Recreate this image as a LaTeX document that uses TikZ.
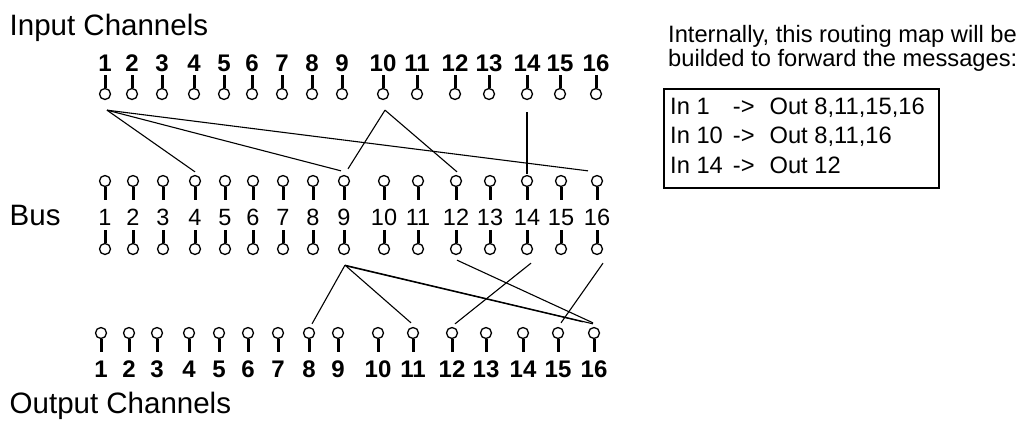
\documentclass[tikz,border=0pt]{standalone}
\usepackage{fontspec}
\setmainfont{Liberation Sans}
\usepackage{tikz}

\begin{document}
\begin{tikzpicture}[x=1pt, y=-1pt,
	plug/.style={circle, draw, line width=1.3pt, minimum size=11pt, inner sep=0pt},
	stem/.style={line width=3pt},
	wire/.style={line width=1.1pt},
	innum/.style={anchor=base, inner sep=0pt, font=\fontsize{24}{28}\selectfont\bfseries},
	busnum/.style={anchor=base, inner sep=0pt, font=\fontsize{23.5}{28}\selectfont},
	chlabel/.style={anchor=base west, inner sep=0pt, font=\fontsize{29.5}{35}\selectfont},
	note/.style={anchor=base west, inner sep=0pt, font=\fontsize{23.7}{29.5}\selectfont}]
\useasboundingbox (0,0) rectangle (1032,421);
\node[chlabel] (intitle) at (9.5,35) {Input Channels};
\node[chlabel] (bustitle) at (9.5,225) {Bus};
\node[chlabel] (outtitle) at (9.5,413) {Output Channels};
\node[plug] (in1) at (105,94) {}; \node[innum] (ni1) at (105,71) {1}; \draw[stem] (in1.north) -- ++(0,-13);
\node[plug] (in2) at (132,94) {}; \node[innum] (ni2) at (132,71) {2}; \draw[stem] (in2.north) -- ++(0,-13);
\node[plug] (in3) at (162,94) {}; \node[innum] (ni3) at (162,71) {3}; \draw[stem] (in3.north) -- ++(0,-13);
\node[plug] (in4) at (194,94) {}; \node[innum] (ni4) at (194,71) {4}; \draw[stem] (in4.north) -- ++(0,-13);
\node[plug] (in5) at (224,94) {}; \node[innum] (ni5) at (224,71) {5}; \draw[stem] (in5.north) -- ++(0,-13);
\node[plug] (in6) at (252,94) {}; \node[innum] (ni6) at (252,71) {6}; \draw[stem] (in6.north) -- ++(0,-13);
\node[plug] (in7) at (282,94) {}; \node[innum] (ni7) at (282,71) {7}; \draw[stem] (in7.north) -- ++(0,-13);
\node[plug] (in8) at (312,94) {}; \node[innum] (ni8) at (312,71) {8}; \draw[stem] (in8.north) -- ++(0,-13);
\node[plug] (in9) at (342,94) {}; \node[innum] (ni9) at (342,71) {9}; \draw[stem] (in9.north) -- ++(0,-13);
\node[plug] (in10) at (383,94) {}; \node[innum] (ni10) at (383,71) {10}; \draw[stem] (in10.north) -- ++(0,-13);
\node[plug] (in11) at (417,94) {}; \node[innum] (ni11) at (417,71) {11}; \draw[stem] (in11.north) -- ++(0,-13);
\node[plug] (in12) at (455,94) {}; \node[innum] (ni12) at (455,71) {12}; \draw[stem] (in12.north) -- ++(0,-13);
\node[plug] (in13) at (489,94) {}; \node[innum] (ni13) at (489,71) {13}; \draw[stem] (in13.north) -- ++(0,-13);
\node[plug] (in14) at (527,94) {}; \node[innum] (ni14) at (527,71) {14}; \draw[stem] (in14.north) -- ++(0,-13);
\node[plug] (in15) at (560,94) {}; \node[innum] (ni15) at (560,71) {15}; \draw[stem] (in15.north) -- ++(0,-13);
\node[plug] (in16) at (596,94) {}; \node[innum] (ni16) at (596,71) {16}; \draw[stem] (in16.north) -- ++(0,-13);
\node[plug] (bt1) at (105,181) {}; \node[busnum] (nb1) at (105,225) {1}; \node[plug] (bb1) at (105,249) {}; \draw[stem] (bt1.south) -- ++(0,13) (bb1.north) -- ++(0,-13);
\node[plug] (bt2) at (133,181) {}; \node[busnum] (nb2) at (133,225) {2}; \node[plug] (bb2) at (133,249) {}; \draw[stem] (bt2.south) -- ++(0,13) (bb2.north) -- ++(0,-13);
\node[plug] (bt3) at (163,181) {}; \node[busnum] (nb3) at (163,225) {3}; \node[plug] (bb3) at (163,249) {}; \draw[stem] (bt3.south) -- ++(0,13) (bb3.north) -- ++(0,-13);
\node[plug] (bt4) at (195,181) {}; \node[busnum] (nb4) at (195,225) {4}; \node[plug] (bb4) at (195,249) {}; \draw[stem] (bt4.south) -- ++(0,13) (bb4.north) -- ++(0,-13);
\node[plug] (bt5) at (225,181) {}; \node[busnum] (nb5) at (225,225) {5}; \node[plug] (bb5) at (225,249) {}; \draw[stem] (bt5.south) -- ++(0,13) (bb5.north) -- ++(0,-13);
\node[plug] (bt6) at (253,181) {}; \node[busnum] (nb6) at (253,225) {6}; \node[plug] (bb6) at (253,249) {}; \draw[stem] (bt6.south) -- ++(0,13) (bb6.north) -- ++(0,-13);
\node[plug] (bt7) at (283,181) {}; \node[busnum] (nb7) at (283,225) {7}; \node[plug] (bb7) at (283,249) {}; \draw[stem] (bt7.south) -- ++(0,13) (bb7.north) -- ++(0,-13);
\node[plug] (bt8) at (313,181) {}; \node[busnum] (nb8) at (313,225) {8}; \node[plug] (bb8) at (313,249) {}; \draw[stem] (bt8.south) -- ++(0,13) (bb8.north) -- ++(0,-13);
\node[plug] (bt9) at (344,181) {}; \node[busnum] (nb9) at (344,225) {9}; \node[plug] (bb9) at (344,249) {}; \draw[stem] (bt9.south) -- ++(0,13) (bb9.north) -- ++(0,-13);
\node[plug] (bt10) at (384,181) {}; \node[busnum] (nb10) at (384,225) {10}; \node[plug] (bb10) at (384,249) {}; \draw[stem] (bt10.south) -- ++(0,13) (bb10.north) -- ++(0,-13);
\node[plug] (bt11) at (418,181) {}; \node[busnum] (nb11) at (418,225) {11}; \node[plug] (bb11) at (418,249) {}; \draw[stem] (bt11.south) -- ++(0,13) (bb11.north) -- ++(0,-13);
\node[plug] (bt12) at (456,181) {}; \node[busnum] (nb12) at (456,225) {12}; \node[plug] (bb12) at (456,249) {}; \draw[stem] (bt12.south) -- ++(0,13) (bb12.north) -- ++(0,-13);
\node[plug] (bt13) at (490,181) {}; \node[busnum] (nb13) at (490,225) {13}; \node[plug] (bb13) at (490,249) {}; \draw[stem] (bt13.south) -- ++(0,13) (bb13.north) -- ++(0,-13);
\node[plug] (bt14) at (527,181) {}; \node[busnum] (nb14) at (527,225) {14}; \node[plug] (bb14) at (527,249) {}; \draw[stem] (bt14.south) -- ++(0,13) (bb14.north) -- ++(0,-13);
\node[plug] (bt15) at (561,181) {}; \node[busnum] (nb15) at (561,225) {15}; \node[plug] (bb15) at (561,249) {}; \draw[stem] (bt15.south) -- ++(0,13) (bb15.north) -- ++(0,-13);
\node[plug] (bt16) at (597,181) {}; \node[busnum] (nb16) at (597,225) {16}; \node[plug] (bb16) at (597,249) {}; \draw[stem] (bt16.south) -- ++(0,13) (bb16.north) -- ++(0,-13);
\node[plug] (out1) at (101,333) {}; \node[innum] (no1) at (101,377) {1}; \draw[stem] (out1.south) -- ++(0,13);
\node[plug] (out2) at (129,333) {}; \node[innum] (no2) at (129,377) {2}; \draw[stem] (out2.south) -- ++(0,13);
\node[plug] (out3) at (157,333) {}; \node[innum] (no3) at (157,377) {3}; \draw[stem] (out3.south) -- ++(0,13);
\node[plug] (out4) at (189,333) {}; \node[innum] (no4) at (189,377) {4}; \draw[stem] (out4.south) -- ++(0,13);
\node[plug] (out5) at (219,333) {}; \node[innum] (no5) at (219,377) {5}; \draw[stem] (out5.south) -- ++(0,13);
\node[plug] (out6) at (248,333) {}; \node[innum] (no6) at (248,377) {6}; \draw[stem] (out6.south) -- ++(0,13);
\node[plug] (out7) at (278,333) {}; \node[innum] (no7) at (278,377) {7}; \draw[stem] (out7.south) -- ++(0,13);
\node[plug] (out8) at (309,333) {}; \node[innum] (no8) at (309,377) {8}; \draw[stem] (out8.south) -- ++(0,13);
\node[plug] (out9) at (338,333) {}; \node[innum] (no9) at (338,377) {9}; \draw[stem] (out9.south) -- ++(0,13);
\node[plug] (out10) at (378,333) {}; \node[innum] (no10) at (378,377) {10}; \draw[stem] (out10.south) -- ++(0,13);
\node[plug] (out11) at (413,333) {}; \node[innum] (no11) at (413,377) {11}; \draw[stem] (out11.south) -- ++(0,13);
\node[plug] (out12) at (452,333) {}; \node[innum] (no12) at (452,377) {12}; \draw[stem] (out12.south) -- ++(0,13);
\node[plug] (out13) at (486,333) {}; \node[innum] (no13) at (486,377) {13}; \draw[stem] (out13.south) -- ++(0,13);
\node[plug] (out14) at (523,333) {}; \node[innum] (no14) at (523,377) {14}; \draw[stem] (out14.south) -- ++(0,13);
\node[plug] (out15) at (558,333) {}; \node[innum] (no15) at (558,377) {15}; \draw[stem] (out15.south) -- ++(0,13);
\node[plug] (out16) at (594,333) {}; \node[innum] (no16) at (594,377) {16}; \draw[stem] (out16.south) -- ++(0,13);
\draw[wire] ([xshift=2pt,yshift=-10pt]in1.south) -- ([yshift=3pt]bt4.north);
\draw[wire] ([xshift=2pt,yshift=-10pt]in1.south) -- ([xshift=-3pt,yshift=4pt]bt9.north);
\draw[wire] ([xshift=2pt,yshift=-10pt]in1.south) -- ([xshift=-9pt,yshift=4pt]bt16.north);
\draw[wire] ([xshift=2pt,yshift=-10pt]in10.south) -- ([xshift=4pt,yshift=6pt]bt9.north);
\draw[wire] ([xshift=2pt,yshift=-10pt]in10.south) -- ([xshift=1pt,yshift=3pt]bt12.north);
\draw[wire] ([yshift=-12pt]in14.south) -- ([yshift=1pt]bt14.north);
\draw[wire] ([xshift=1pt,yshift=-10pt]bb9.south) -- ([xshift=3pt,yshift=3pt]out8.north);
\draw[wire] ([xshift=1pt,yshift=-10pt]bb9.south) -- ([xshift=-2pt,yshift=4pt]out11.north);
\draw[wire] ([xshift=1pt,yshift=-10pt]bb9.south) -- ([xshift=-1pt,yshift=3pt]out16.north);
\draw[wire] ([xshift=3pt,yshift=-11pt]bb9.south) -- ([xshift=-11pt,yshift=5pt]out16.north);
\draw[wire] ([xshift=1pt,yshift=-5pt]bb12.south) -- ([xshift=-1pt,yshift=4pt]out16.north);
\draw[wire] ([xshift=4pt,yshift=-8pt]bb14.south) -- ([xshift=3pt,yshift=3pt]out12.north);
\draw[wire] ([xshift=6pt,yshift=-8pt]bb16.south) -- ([xshift=3pt,yshift=4pt]out15.north);
\node[note] (note1) at (668,42) {Internally, this routing map will be};
\node[note] (note2) at (668,66) {builded to forward the messages:};
\node[draw, line width=1.5pt, anchor=north west, minimum width=275pt, minimum height=99pt, inner sep=0pt] (mapbox) at (663,88) {};
\node[note] (maptext) at (670,114) {\begin{tabular}[t]{@{}l@{\hspace{10pt}}l@{\hspace{15pt}}l@{}}In 1 & -> & Out 8,11,15,16\\ In 10 & -> & Out 8,11,16\\ In 14 & -> & Out 12\end{tabular}};
\end{tikzpicture}
\end{document}
